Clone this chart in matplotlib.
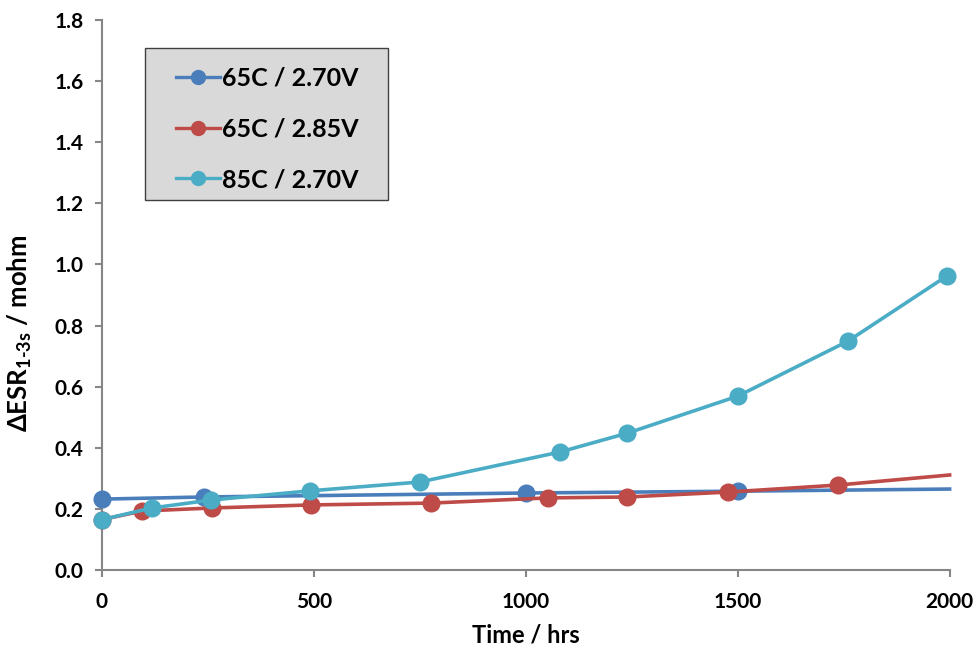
import matplotlib
matplotlib.use("Agg")
import matplotlib.pyplot as plt
from matplotlib.patches import Rectangle

plt.rcParams['font.family'] = ['Lato', 'DejaVu Sans']
plt.rcParams['font.weight'] = 'bold'
plt.rcParams['mathtext.fontset'] = 'custom'
plt.rcParams['mathtext.rm'] = 'Lato:bold'
plt.rcParams['mathtext.it'] = 'Lato:italic:bold'
plt.rcParams['mathtext.bf'] = 'Lato:bold'

# Data
labels = ['65C / 2.70V', '65C / 2.85V', '85C / 2.70V']
colors = ['#4a7ebb', '#be4b48', '#4bacc6']

t_blue = [0, 240, 1000, 1500, 2000]
v_blue = [0.232, 0.239, 0.252, 0.258, 0.265]
mk_blue = [0, 1, 2, 3]

t_red = [0, 95, 260, 493, 776, 1052, 1240, 1476, 1736, 2000]
v_red = [0.165, 0.193, 0.203, 0.213, 0.219, 0.236, 0.239, 0.255, 0.278, 0.311]
mk_red = [0, 1, 2, 3, 4, 5, 6, 7, 8]

t_cyan = [0, 118, 257, 490, 750, 1080, 1240, 1500, 1760, 1993]
v_cyan = [0.165, 0.203, 0.229, 0.259, 0.288, 0.386, 0.448, 0.569, 0.749, 0.962]
mk_cyan = list(range(10))

xticks = [0, 500, 1000, 1500, 2000]
yticks = [0.0, 0.2, 0.4, 0.6, 0.8, 1.0, 1.2, 1.4, 1.6, 1.8]

fig = plt.figure(figsize=(9.8, 6.47), dpi=100)
ax = fig.add_axes([0.104, 0.119, 0.865, 0.850])

series = [(t_blue, v_blue, mk_blue), (t_red, v_red, mk_red), (t_cyan, v_cyan, mk_cyan)]
for (t, v, mk), c, lab in zip(series, colors, labels):
    ax.plot(t, v, color=c, lw=2.6, marker='o', markersize=12, markevery=mk,
            label=lab, clip_on=False, zorder=3)

ax.set_xlim(0, 2000)
ax.set_ylim(0, 1.8)
ax.set_xticks(xticks)
ax.set_yticks(yticks)
ax.set_yticklabels([f'{y:.1f}' for y in yticks])
ax.set_xticklabels([str(x) for x in xticks])

for s in ['top', 'right']:
    ax.spines[s].set_visible(False)
for s in ['left', 'bottom']:
    ax.spines[s].set_color('#868686')
    ax.spines[s].set_linewidth(1.5)
ax.tick_params(axis='both', colors='#868686', width=1.5, length=5, labelsize=15,
               labelcolor='black', direction='out')
ax.tick_params(axis='x', pad=11)
ax.tick_params(axis='y', pad=8)
for lbl in ax.get_xticklabels() + ax.get_yticklabels():
    lbl.set_fontweight('bold')

ax.set_xlabel('Time / hrs', fontsize=17, fontweight='bold', labelpad=8)
ax.set_ylabel(r'$\mathit{\Delta}$ESR$_{\mathrm{1\text{-}3s}}$ / mohm', fontsize=18.5,
              fontweight='bold')
ax.yaxis.set_label_coords(-0.08, 0.43)

# legend box
fig.patches.append(Rectangle((145 / 980, 1 - 200 / 647), 243 / 980, 152 / 647,
                             transform=fig.transFigure, facecolor='#d9d9d9',
                             edgecolor='#404040', linewidth=1.0, zorder=4))

leg = fig.legend(*ax.get_legend_handles_labels(), loc='upper left',
                 bbox_to_anchor=(176 / 980, 1 - 67 / 647), fontsize=18,
                 frameon=False, handlelength=1.75, handletextpad=0.1,
                 labelspacing=1.1, borderpad=0, borderaxespad=0)
leg.set_zorder(5)
for h in leg.legend_handles:
    h.set_markersize(10)
    h.set_linewidth(2.4)
for txt in leg.get_texts():
    txt.set_fontweight('bold')

fig.savefig('out.png', dpi=100)
